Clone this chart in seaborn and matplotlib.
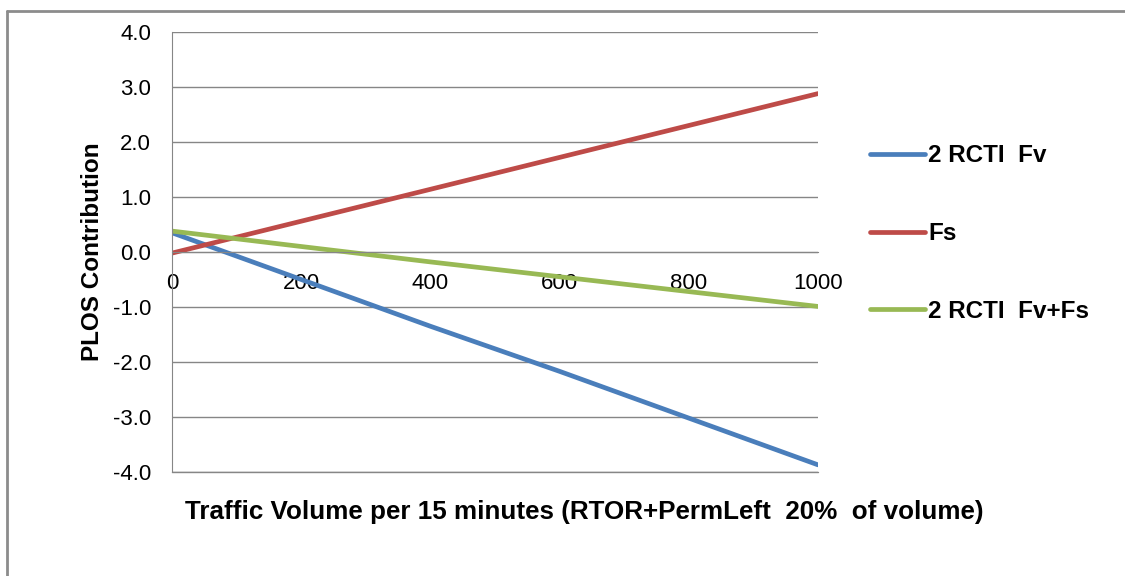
import numpy as np
import pandas as pd
import matplotlib
matplotlib.use('Agg')
import matplotlib.pyplot as plt
import seaborn as sns

# values
volume = [0, 200, 400, 600, 800, 1000]
fv = [0.35, -0.50, -1.35, -2.17, -3.02, -3.87]
fs = [-0.02, 0.56, 1.14, 1.72, 2.30, 2.88]
fv_fs = [0.38, 0.10, -0.18, -0.45, -0.72, -0.99]
series_names = ['2 RCTI  Fv', 'Fs', '2 RCTI  Fv+Fs']
colors = ['#4A7EBB', '#BE4B48', '#98B954']
yticks = [-4.0, -3.0, -2.0, -1.0, 0.0, 1.0, 2.0, 3.0, 4.0]
xticks = [0, 200, 400, 600, 800, 1000]

df = pd.DataFrame({
    'volume': volume * 3,
    'value': fv + fs + fv_fs,
    'series': [series_names[0]] * 6 + [series_names[1]] * 6 + [series_names[2]] * 6,
})

sns.set_style('white')
plt.rcParams['font.family'] = ['Liberation Sans', 'DejaVu Sans']
plt.rcParams['text.color'] = 'black'
plt.rcParams['axes.labelcolor'] = 'black'
plt.rcParams['xtick.color'] = 'black'
plt.rcParams['ytick.color'] = 'black'

fig = plt.figure(figsize=(11.25, 5.76), dpi=100)
ax = fig.add_axes([172 / 1125, 1 - 472 / 576, 646 / 1125, 440 / 576])

sns.lineplot(data=df, x='volume', y='value', hue='series', palette=colors,
             linewidth=3.4, ax=ax, legend=True)

ax.set_xlim(0, 1000)
ax.set_ylim(-4, 4)
ax.set_yticks(yticks)
ax.set_yticklabels(['%.1f' % v for v in yticks])
ax.set_xticks(xticks)
ax.set_xticklabels([str(v) for v in xticks])

ax.grid(axis='y', color='#868686', linewidth=1)
ax.set_axisbelow(True)
ax.axhline(-4, color='#868686', linewidth=1, clip_on=False, zorder=0)
for s in ['top', 'right']:
    ax.spines[s].set_visible(False)
ax.spines['bottom'].set_position(('data', 0))
ax.spines['bottom'].set_color('#868686')
ax.spines['left'].set_color('#868686')
ax.tick_params(axis='both', which='both', length=5, width=1, color='#868686',
               labelsize=16, direction='out', labelcolor='black')
ax.tick_params(axis='y', pad=10)
ax.tick_params(axis='x', pad=10)

ax.set_xlabel('')
ax.set_ylabel('PLOS Contribution', fontsize=17.5, fontweight='bold', labelpad=6)
fig.text(0.5196, 0.111, 'Traffic Volume per 15 minutes (RTOR+PermLeft  20%  of volume)',
         ha='center', va='center', fontsize=18.7, fontweight='bold')

handles, labels = ax.get_legend_handles_labels()
ax.legend(handles, labels, loc='center left', bbox_to_anchor=(1.046, 0.542),
          frameon=False, prop={'weight': 'bold', 'size': 17.5},
          handlelength=2.3, handletextpad=0.12, labelspacing=2.25)

# outer chart border (top and left edges)
fig.add_artist(plt.Line2D([7 / 1125, 7 / 1125], [0, 1 - 11 / 576], color='#8C8C8C', linewidth=2,
                          transform=fig.transFigure))
fig.add_artist(plt.Line2D([7 / 1125, 1], [1 - 11 / 576, 1 - 11 / 576], color='#8C8C8C', linewidth=2,
                          transform=fig.transFigure))

fig.savefig('out.png', dpi=100)
